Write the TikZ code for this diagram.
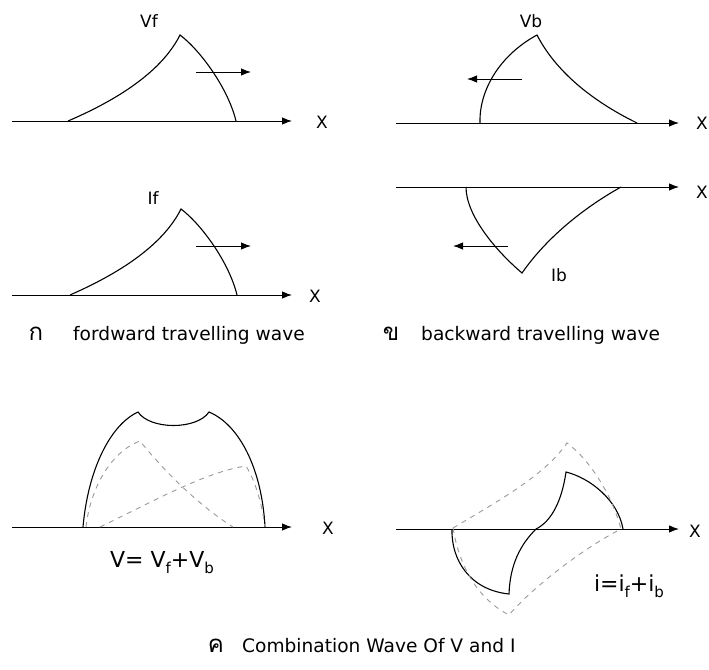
\documentclass[tikz,border=0pt]{standalone}
\usepackage{fontspec}
\setmainfont{DejaVu Sans}
\newfontfamily\thaifont[Script=Thai]{Loma}
\usetikzlibrary{arrows.meta}
\begin{document}
\begin{tikzpicture}[x=1pt,y=-1pt,
  axis/.style={line width=1pt,-{Latex[length=10pt,width=7.5pt]}},
  wave/.style={line width=1.1pt},
  move/.style={line width=1pt,-{Latex[length=10pt,width=7.5pt]}},
  comp/.style={line width=0.9pt,gray!80,dash pattern=on 5pt off 5pt},
  lbl/.style={font=\fontsize{17}{19}\selectfont,inner sep=0pt},
  captext/.style={font=\fontsize{18.6}{21}\selectfont,inner sep=0pt,anchor=base west},
  thai/.style={font=\thaifont\fontsize{24}{26}\selectfont,inner sep=0pt,anchor=base},
  eq/.style={font=\fontsize{22}{24}\selectfont,inner sep=0pt,anchor=base}]
\newcommand{\subtx}[1]{\raisebox{-0.5ex}{\fontsize{15}{17}\selectfont #1}}
\useasboundingbox (0,0) rectangle (709,669);

% ---------- panel 1: Vf ----------
\coordinate (a1s) at (12,121);
\coordinate (a1e) at (292,121);
\draw[axis] (a1s) -- (a1e);
\node[lbl] (x1) at (322,122) {X};
\coordinate (f1) at (68,121);
\coordinate (p1) at (180,35);
\coordinate (e1) at (236,121);
\draw[wave] (f1) .. controls (110,103) and (160,75) .. (p1)
  .. controls (200,50) and (228,88) .. (e1);
\coordinate (m1s) at (196,72);
\coordinate (m1e) at (251,72);
\draw[move] (m1s) -- (m1e);
\node[lbl] (vf) at (149,21) {Vf};

% ---------- panel 2: Vb ----------
\coordinate (a2s) at (396,123);
\coordinate (a2e) at (679,123);
\draw[axis] (a2s) -- (a2e);
\node[lbl] (x2) at (702,123) {X};
\coordinate (f2) at (480,123);
\coordinate (p2) at (537,35);
\coordinate (e2) at (637,123);
\draw[wave] (f2) .. controls (479,90) and (500,55) .. (p2)
  .. controls (555,70) and (590,100) .. (e2);
\coordinate (m2s) at (522,79);
\coordinate (m2e) at (467,79);
\draw[move] (m2s) -- (m2e);
\node[lbl] (vb) at (531,21) {Vb};

% ---------- panel 3: If ----------
\coordinate (a3s) at (12,295);
\coordinate (a3e) at (292,295);
\draw[axis] (a3s) -- (a3e);
\node[lbl] (x3) at (315,296) {X};
\coordinate (f3) at (70,295);
\coordinate (p3) at (181,209);
\coordinate (e3) at (237,295);
\draw[wave] (f3) .. controls (111,277) and (161,249) .. (p3)
  .. controls (201,224) and (229,262) .. (e3);
\coordinate (m3s) at (196,246);
\coordinate (m3e) at (251,246);
\draw[move] (m3s) -- (m3e);
\node[lbl] (if) at (153,198) {If};

% ---------- panel 4: Ib ----------
\coordinate (a4s) at (396,187);
\coordinate (a4e) at (679,187);
\draw[axis] (a4s) -- (a4e);
\node[lbl] (x4) at (702,192) {X};
\coordinate (f4) at (466,187);
\coordinate (p4) at (522,273);
\coordinate (e4) at (621,187);
\draw[wave] (f4) .. controls (466,215) and (495,250) .. (p4)
  .. controls (545,240) and (580,210) .. (e4);
\coordinate (m4s) at (508,246);
\coordinate (m4e) at (453,246);
\draw[move] (m4s) -- (m4e);
\node[lbl] (ib) at (559,275) {Ib};

% ---------- captions ----------
\node[thai] (ka) at (36,340) {ก};
\node[captext] (capf) at (73,340) {fordward travelling wave};
\node[thai] (kha) at (391,340) {ข};
\node[captext] (capb) at (421,340) {backward travelling wave};

% ---------- panel 5: V = Vf + Vb ----------
\coordinate (a5s) at (12,527);
\coordinate (a5e) at (292,527);
\draw[axis] (a5s) -- (a5e);
\node[lbl] (x5) at (328,528) {X};
\coordinate (s5) at (83,527);
\coordinate (c5l) at (138,412);
\coordinate (c5r) at (209,412);
\coordinate (t5) at (265,527);
\draw[wave] (s5) .. controls (88,470) and (110,425) .. (c5l)
  .. controls (150,430) and (197,430) .. (c5r)
  .. controls (240,425) and (262,470) .. (t5);
\coordinate (vbs) at (86,527);
\coordinate (vbp) at (140,441);
\coordinate (vbe) at (233,527);
\draw[comp] (vbs) .. controls (90,490) and (110,452) .. (vbp)
  .. controls (160,466) and (195,503) .. (vbe);
\coordinate (vfs) at (100,527);
\coordinate (vfp) at (246,466);
\coordinate (vfe) at (265,527);
\draw[comp] (vfs) .. controls (150,503) and (205,472) .. (vfp)
  .. controls (256,482) and (262,505) .. (vfe);
\node[eq] (eqv) at (162,567) {V= V\subtx{f}+V\subtx{b}};

% ---------- panel 6: i = if + ib ----------
\coordinate (a6s) at (396,529);
\coordinate (a6e) at (679,529);
\draw[axis] (a6s) -- (a6e);
\node[lbl] (x6) at (695,531) {X};
\coordinate (s6) at (452,529);
\coordinate (b6) at (509,594);
\coordinate (z6) at (536,529);
\coordinate (u6) at (566,472);
\coordinate (t6) at (623,529);
\draw[wave] (s6) .. controls (451,560) and (470,590) .. (b6)
  .. controls (510,565) and (520,545) .. (z6)
  .. controls (552,521) and (562,500) .. (u6)
  .. controls (590,478) and (618,500) .. (t6);
\coordinate (ds) at (453,528);
\coordinate (dp) at (567,443);
\coordinate (de) at (621,529);
\coordinate (dt) at (509,615);
\draw[comp] (ds) .. controls (500,500) and (545,475) .. (dp)
  .. controls (590,460) and (612,495) .. (de);
\draw[comp] (ds) .. controls (460,570) and (480,600) .. (dt)
  .. controls (530,590) and (580,550) .. (de);
\node[eq] (eqi) at (629,591) {i=i\subtx{f}+i\subtx{b}};

% ---------- bottom caption ----------
\node[thai] (kho) at (216,652) {ค};
\node[captext] (capc) at (242,652) {Combination Wave Of V and I};
\end{tikzpicture}
\end{document}
